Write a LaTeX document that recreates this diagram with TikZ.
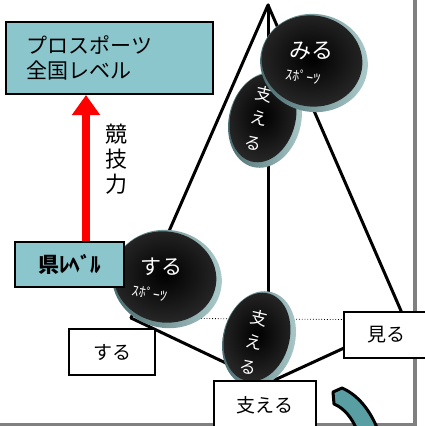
\documentclass[tikz,border=0pt]{standalone}
\usepackage{fontspec}
\setmainfont{Noto Sans CJK JP}
\usetikzlibrary{shapes.geometric,arrows.meta}
\definecolor{boxteal}{RGB}{138,198,204}
\definecolor{arcteal}{RGB}{88,158,162}
\definecolor{rimdark}{RGB}{70,105,108}
\definecolor{rimlight}{RGB}{175,205,205}
\definecolor{framegray}{RGB}{128,128,128}
\definecolor{facegray}{RGB}{38,38,38}
\begin{document}
\begin{tikzpicture}[x=1pt,y=-1pt,
  edge/.style={line width=3pt, line cap=round},
  backedge/.style={line width=0.8pt, dotted},
  tealbox/.style={draw=black, line width=2pt, fill=boxteal, inner sep=0pt},
  whitebox/.style={draw=black, line width=2pt, fill=white, inner sep=0pt, font=\fontsize{19}{22}\selectfont},
  rim/.style={ellipse, inner sep=0pt, left color=rimdark, right color=rimlight},
  face/.style={ellipse, inner sep=0pt, inner color=black, outer color=facegray},
  stonetext/.style={text=white, inner sep=0pt, align=center},
  redarrow/.style={red, line width=8pt, -{Triangle[width=27pt,length=20pt]}},
]
\useasboundingbox (0,0) rectangle (424,426);

% frame
\fill[framegray] (413,0) rectangle (417,426);
\fill[framegray] (0,423) rectangle (417,427);

% teal arc at bottom right
\filldraw[fill=arcteal, draw=black, line width=3pt, line join=round]
  (333,392) -- (342,388) .. controls (358,395) and (370,410) .. (378,430)
  -- (357,430) .. controls (352,418) and (344,408) .. (334,404) -- cycle;

% pyramid
\coordinate (apex) at (268,5);
\coordinate (L) at (131,318);
\coordinate (F) at (268,383);
\coordinate (R) at (405,320);
\draw[backedge] (L) -- (R);
\draw[edge] (apex) -- (L);
\draw[edge] (apex) -- (F);
\draw[edge] (apex) -- (R);
\draw[edge] (L) -- (F);
\draw[edge] (F) -- (R);

% upper 支える stone
\node[rim, minimum width=72pt, minimum height=97pt, rotate=-15] (s1rim) at (265,120) {};
\node[face, minimum width=65pt, minimum height=90pt, rotate=-15] (s1face) at (263,118) {};
\node[stonetext, rotate=-13, font=\fontsize{17}{25}\selectfont] (s1text) at (259,118) {支\\え\\る};

% みる stone
\node[rim, minimum width=108pt, minimum height=98pt, rotate=-10] (mrim) at (314,63) {};
\node[face, minimum width=101pt, minimum height=91pt, rotate=-10] (mface) at (312,61) {};
\node[stonetext, font=\fontsize{22}{24}\selectfont] (mtext) at (311,51) {みる};
\node[stonetext, rotate=-8, font=\fontsize{14}{16}\selectfont] (msub) at (303,76) {ｽﾎﾟｰﾂ};

% する stone
\node[rim, minimum width=110pt, minimum height=98pt, rotate=-10] (srim) at (167,279) {};
\node[face, minimum width=103pt, minimum height=91pt, rotate=-10] (sface) at (165,277) {};
\node[stonetext, font=\fontsize{21}{24}\selectfont] (stext) at (161,267) {する};
\node[stonetext, rotate=-10, font=\fontsize{14}{16}\selectfont] (ssub) at (150,293) {ｽﾎﾟｰﾂ};

% lower 支える stone
\node[rim, minimum width=72pt, minimum height=97pt, rotate=-15] (s2rim) at (259,339) {};
\node[face, minimum width=65pt, minimum height=90pt, rotate=-15] (s2face) at (257,337) {};
\node[stonetext, rotate=-13, font=\fontsize{17}{25}\selectfont] (s2text) at (254,342) {支\\え\\る};

% boxes
\node[tealbox, minimum width=207pt, minimum height=72pt, text width=165pt, inner xsep=21pt, align=left,
      font=\fontsize{21}{25}\selectfont] (pro) at (109.5,58) {プロスポーツ\\全国レベル};
\node[tealbox, minimum width=109pt, minimum height=45pt, font=\fontsize{21}{24}\selectfont\bfseries] (ken) at (69.5,264.5) {県ﾚﾍﾞﾙ};
\node[whitebox, minimum width=86pt, minimum height=46pt] (suru) at (112,352) {する};
\node[whitebox, minimum width=84pt, minimum height=46pt] (miru) at (386,335) {見る};
\node[whitebox, minimum width=102pt, minimum height=48pt] (sasaeru) at (265,405) {支える};

% red arrow
\draw[redarrow] (86,0 |- ken.north) -- (86,0 |- pro.south);
\node[inner sep=0pt, align=center, font=\fontsize{22}{25}\selectfont] (kyogi) at (116,159) {競\\技\\力};
\end{tikzpicture}
\end{document}
